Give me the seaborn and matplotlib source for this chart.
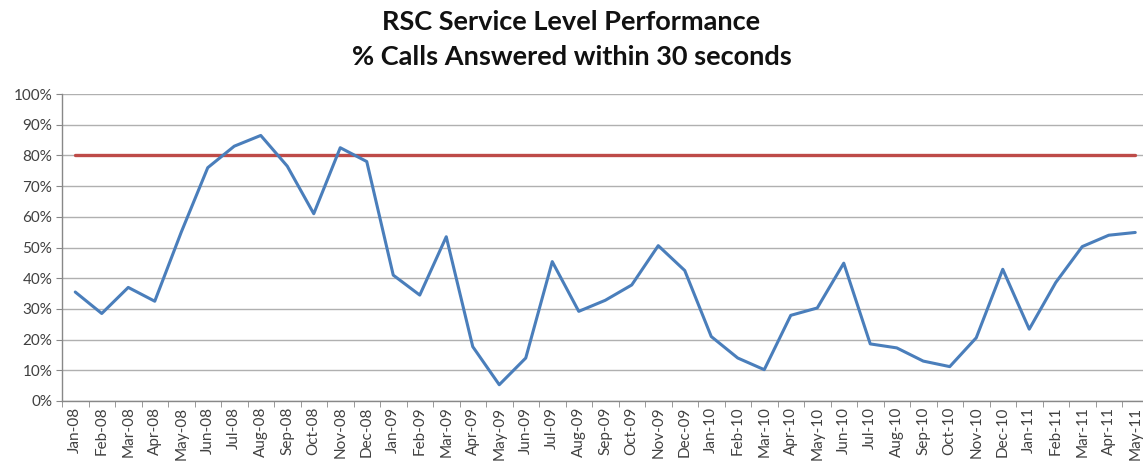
import pandas as pd
import matplotlib.pyplot as plt
import seaborn as sns
from matplotlib.ticker import FixedLocator, PercentFormatter

# Monthly service level data (% calls answered within 30 seconds)
months = ['Jan-08', 'Feb-08', 'Mar-08', 'Apr-08', 'May-08', 'Jun-08', 'Jul-08', 'Aug-08',
          'Sep-08', 'Oct-08', 'Nov-08', 'Dec-08', 'Jan-09', 'Feb-09', 'Mar-09', 'Apr-09',
          'May-09', 'Jun-09', 'Jul-09', 'Aug-09', 'Sep-09', 'Oct-09', 'Nov-09', 'Dec-09',
          'Jan-10', 'Feb-10', 'Mar-10', 'Apr-10', 'May-10', 'Jun-10', 'Jul-10', 'Aug-10',
          'Sep-10', 'Oct-10', 'Nov-10', 'Dec-10', 'Jan-11', 'Feb-11', 'Mar-11', 'Apr-11',
          'May-11']
service_level = [35.5, 28.5, 37, 32.5, 55, 76, 83, 86.5, 76.5, 61, 82.5, 78,
                 41, 34.5, 53.5, 17.7, 5.3, 14, 45.4, 29.2, 32.8, 37.8, 50.6, 42.5,
                 21, 14, 10.2, 27.9, 30.3, 44.9, 18.6, 17.3, 13, 11.2, 20.6, 42.9,
                 23.4, 38.6, 50.3, 54, 54.9]
target = [80] * len(months)

df = pd.DataFrame({'month': months, 'service': service_level, 'target': target})

sns.set_style('white')
plt.rcParams['font.family'] = ['Lato', 'DejaVu Sans']

fig = plt.figure(figsize=(11.43, 4.70), dpi=100)
ax = fig.add_axes([62 / 1143, 69 / 470, 1086.5 / 1143, 307 / 470])

sns.lineplot(data=df, x='month', y='target', color='#BE4B48', linewidth=2.4, ax=ax)
sns.lineplot(data=df, x='month', y='service', color='#4A7EBB', linewidth=2.2, ax=ax)

ax.set_xlim(-0.5, len(months) - 0.5)
ax.set_ylim(0, 100)
ax.set_yticks(range(0, 101, 10))
ax.yaxis.set_major_formatter(PercentFormatter(decimals=0))
ax.yaxis.grid(True, color='#b0b0b0', linewidth=1)
ax.set_axisbelow(True)

# ticks between categories, labels centred
ax.xaxis.set_minor_locator(FixedLocator([i - 0.5 for i in range(len(months) + 1)]))
ax.tick_params(axis='x', which='major', length=0, labelrotation=90, labelsize=11,
               labelcolor='#404040', pad=4)
ax.tick_params(axis='x', which='minor', length=4, color='#888888', bottom=True)
ax.tick_params(axis='y', length=4, color='#888888', left=True, labelsize=11,
               labelcolor='#404040', pad=3)

for side in ['top', 'right']:
    ax.spines[side].set_visible(False)
for side in ['left', 'bottom']:
    ax.spines[side].set_color('#888888')
    ax.spines[side].set_linewidth(1)

ax.set_xlabel('')
ax.set_ylabel('')
fig.text(0.5, 0.978, 'RSC Service Level Performance\n% Calls Answered within 30 seconds',
         ha='center', va='top', fontsize=19.5, fontweight='bold', color='#111111',
         linespacing=1.55)

fig.savefig('out.png', dpi=100)
